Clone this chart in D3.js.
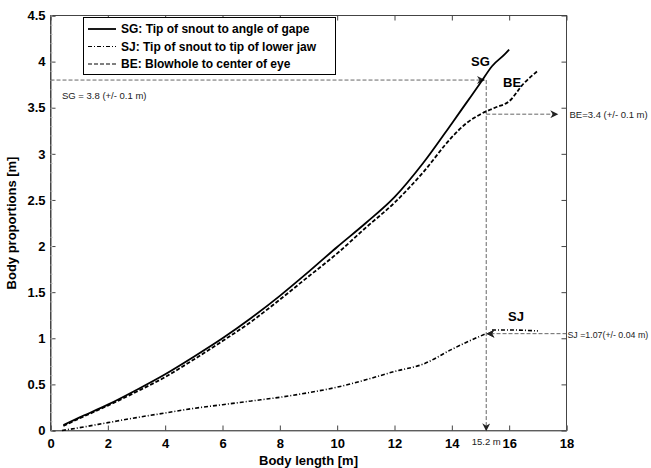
<!DOCTYPE html>
<html>
<head>
<meta charset="utf-8">
<script src="https://cdn.jsdelivr.net/npm/d3@7"></script>
<style>
	body { margin: 0; background: #fff; }
	svg { font-family: "Liberation Sans", Arial, sans-serif; }
	.tick text { font-weight: bold; font-size: 13px; fill: #000; }
</style>
</head>
<body>
<div id="chart"></div>
<script>
// body length (m) vs proportions (m)
const sgLength = [0.45, 1, 2, 3, 4, 5, 6, 7, 8, 9, 10, 11, 12, 13, 14, 14.5, 15, 15.4, 15.85, 16];
const sgValues = [0.06, 0.14, 0.28, 0.44, 0.61, 0.8, 1.0, 1.22, 1.46, 1.72, 1.99, 2.25, 2.53, 2.9, 3.33, 3.55, 3.77, 3.95, 4.08, 4.13];

const beLength = [0.45, 1, 2, 3, 4, 5, 6, 7, 8, 9, 10, 11, 12, 13, 14, 14.5, 15, 15.5, 16, 16.5, 17];
const beValues = [0.05, 0.13, 0.27, 0.42, 0.58, 0.77, 0.97, 1.18, 1.42, 1.67, 1.92, 2.2, 2.47, 2.8, 3.18, 3.33, 3.43, 3.5, 3.57, 3.76, 3.9];

const sjLength = [0.4, 1, 2, 3, 4, 5, 6, 7, 8, 9, 10, 11, 12, 13, 14, 14.6, 15.2];
const sjValues = [0.0, 0.03, 0.085, 0.14, 0.19, 0.24, 0.28, 0.32, 0.36, 0.41, 0.47, 0.55, 0.64, 0.72, 0.88, 0.97, 1.05];
const sjTailLength = [15.4, 16, 17];
const sjTailValues = [1.09, 1.09, 1.08];

const xTicks = [0, 2, 4, 6, 8, 10, 12, 14, 16, 18];
const yTicks = [0, 0.5, 1, 1.5, 2, 2.5, 3, 3.5, 4, 4.5];

const legendItems = [
	{ label: "SG: Tip of snout to angle of gape", dash: null },
	{ label: "SJ: Tip of snout to tip of lower jaw", dash: "4,2,1,2" },
	{ label: "BE: Blowhole to center of eye", dash: "4,2" }
];

// marked estimate at 15.2 m
const markLength = 15.2;
const sgMark = 3.8;
const beMark = 3.43;
const sjMark = 1.05;

const width = 651;
const height = 468;
const margin = { left: 50.5, right: 84.5, top: 15.5, bottom: 37.5 };

const svg = d3.select("#chart")
	.append("svg")
	.attr("width", width)
	.attr("height", height);

const xScale = d3.scaleLinear().domain([0, 18]).range([margin.left, width - margin.right]);
const yScale = d3.scaleLinear().domain([0, 4.5]).range([height - margin.bottom, margin.top]);

const x0 = xScale(0), x1 = xScale(18), y0 = yScale(0), y1 = yScale(4.5);

// arrow heads
const defs = svg.append("defs");
defs.append("marker")
	.attr("id", "arrow")
	.attr("viewBox", "0 0 10 10")
	.attr("refX", 9)
	.attr("refY", 5)
	.attr("markerWidth", 10)
	.attr("markerHeight", 8)
	.attr("markerUnits", "userSpaceOnUse")
	.attr("orient", "auto")
	.append("path")
	.attr("d", "M0,0 L10,5 L0,10 L3,5 Z")
	.attr("fill", "#222");

// box
svg.append("rect")
	.attr("x", x0).attr("y", y1)
	.attr("width", x1 - x0).attr("height", y0 - y1)
	.attr("fill", "none")
	.attr("stroke", "#444")
	.attr("stroke-width", 1);

// axes, ticks inward
const xAxis = d3.axisBottom(xScale).tickValues(xTicks).tickSize(-5).tickPadding(8).tickFormat(d3.format("d"));
const yAxis = d3.axisLeft(yScale).tickValues(yTicks).tickSize(-5).tickPadding(5).tickFormat(d => d);

svg.append("g")
	.attr("transform", `translate(0, ${y0})`)
	.call(xAxis)
	.call(g => g.select(".domain").attr("stroke", "#777"));

svg.append("g")
	.attr("transform", `translate(${x0}, 0)`)
	.call(yAxis)
	.call(g => g.select(".domain").attr("stroke", "#444"));

svg.append("g")
	.attr("transform", `translate(0, ${y1})`)
	.call(d3.axisTop(xScale).tickValues(xTicks).tickSize(-5).tickFormat(""))
	.call(g => g.select(".domain").remove());

svg.append("g")
	.attr("transform", `translate(${x1}, 0)`)
	.call(d3.axisRight(yScale).tickValues(yTicks).tickSize(-5).tickFormat(""))
	.call(g => g.select(".domain").remove());

svg.selectAll(".tick line").attr("stroke", "#444");

// faint minor ticks on left axis
svg.append("g")
	.attr("transform", `translate(${x0}, 0)`)
	.call(d3.axisLeft(yScale).tickValues(d3.range(0, 4.51, 0.1)).tickSize(-2).tickFormat(""))
	.call(g => g.select(".domain").remove())
	.selectAll("line").attr("stroke", "#bbb");

// axis titles
svg.append("text")
	.attr("x", (x0 + x1) / 2)
	.attr("y", 465)
	.attr("text-anchor", "middle")
	.attr("font-weight", "bold")
	.attr("font-size", 13)
	.text("Body length [m]");

svg.append("text")
	.attr("transform", `translate(16, ${(y0 + y1) / 2}) rotate(-90)`)
	.attr("text-anchor", "middle")
	.attr("font-weight", "bold")
	.attr("font-size", 13)
	.text("Body proportions [m]");

// annotation guides
const guide = svg.append("g")
	.attr("stroke", "#666")
	.attr("stroke-width", 1)
	.attr("stroke-dasharray", "4,2")
	.attr("fill", "none");

guide.append("line")
	.attr("x1", x0).attr("y1", yScale(sgMark))
	.attr("x2", xScale(markLength) - 2).attr("y2", yScale(sgMark))
	.attr("marker-end", "url(#arrow)");

guide.append("line")
	.attr("x1", xScale(markLength)).attr("y1", yScale(sgMark))
	.attr("x2", xScale(markLength)).attr("y2", y0)
	.attr("marker-end", "url(#arrow)");

guide.append("line")
	.attr("x1", xScale(markLength)).attr("y1", yScale(beMark))
	.attr("x2", x1 - 9).attr("y2", yScale(beMark))
	.attr("marker-end", "url(#arrow)");

guide.append("line")
	.attr("x1", x1).attr("y1", yScale(sjMark))
	.attr("x2", xScale(markLength) + 1).attr("y2", yScale(sjMark))
	.attr("marker-end", "url(#arrow)");

const note = svg.append("g")
	.attr("font-size", 9.5)
	.attr("fill", "#222");

note.append("text").attr("x", 62).attr("y", yScale(sgMark) + 19).text("SG = 3.8 (+/- 0.1 m)");
note.append("text").attr("x", x1 + 3).attr("y", yScale(beMark) + 4).text("BE=3.4 (+/- 0.1 m)");
note.append("text").attr("x", x1 + 1).attr("y", yScale(sjMark) + 4).attr("font-size", 8.8).text("SJ =1.07(+/- 0.04 m)");
note.append("text").attr("x", xScale(markLength)).attr("y", y0 + 14).attr("text-anchor", "middle").text("15.2 m");

// curves
const line = d3.line()
	.x(d => xScale(d[0]))
	.y(d => yScale(d[1]))
	.curve(d3.curveMonotoneX);

const series = [
	{ xs: sjLength, ys: sjValues, dash: "4,2,1,2", w: 1.6 },
	{ xs: sjTailLength, ys: sjTailValues, dash: "4,2,1,2", w: 1.6 },
	{ xs: beLength, ys: beValues, dash: "4,2", w: 1.8 },
	{ xs: sgLength, ys: sgValues, dash: null, w: 1.8 }
];

series.forEach(s => {
	svg.append("path")
		.datum(d3.zip(s.xs, s.ys))
		.attr("d", line)
		.attr("fill", "none")
		.attr("stroke", "#000")
		.attr("stroke-width", s.w)
		.attr("stroke-dasharray", s.dash);
});

// arrow at SJ junction drawn over curve
svg.append("line")
	.attr("x1", xScale(markLength) + 8).attr("y1", yScale(sjMark))
	.attr("x2", xScale(markLength) + 1).attr("y2", yScale(sjMark))
	.attr("stroke", "none")
	.attr("marker-end", "url(#arrow)");

// curve labels
const curveLabel = svg.append("g")
	.attr("font-weight", "bold")
	.attr("font-size", 13);
curveLabel.append("text").attr("x", 471).attr("y", 66).text("SG");
curveLabel.append("text").attr("x", 503).attr("y", 87).text("BE");
curveLabel.append("text").attr("x", 508).attr("y", 321).text("SJ");

// legend
const legend = svg.append("g");
legend.append("rect")
	.attr("x", 83.5).attr("y", 17.5)
	.attr("width", 252).attr("height", 57)
	.attr("fill", "#fff")
	.attr("stroke", "#000");

legendItems.forEach((item, i) => {
	const yy = 29 + i * 17.5;
	legend.append("line")
		.attr("x1", 88).attr("x2", 116)
		.attr("y1", yy).attr("y2", yy)
		.attr("stroke", "#000")
		.attr("stroke-width", item.dash ? 1 : 1.8)
		.attr("stroke-dasharray", item.dash);
	legend.append("text")
		.attr("x", 121).attr("y", yy + 4)
		.attr("font-weight", "bold")
		.attr("font-size", 12)
		.text(item.label);
});
</script>
</body>
</html>
